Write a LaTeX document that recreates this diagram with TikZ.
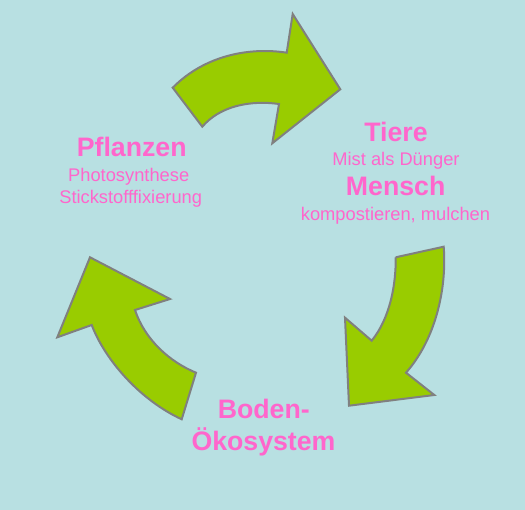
\documentclass[tikz,border=0pt]{standalone}
\usepackage{fontspec}
\setmainfont{Liberation Sans}
\definecolor{hinter}{HTML}{B8E0E2}
\definecolor{blatt}{HTML}{99CC00}
\definecolor{rosa}{HTML}{FF66CC}
\definecolor{rand}{HTML}{808080}
\begin{document}
\begin{tikzpicture}[x=1pt, y=-1pt]
            \tikzstyle{pfeil}=[fill=blatt, draw=rand, line width=2pt, line join=miter]
            \tikzstyle{titel}=[text=rosa, font=\fontsize{26.7}{30}\selectfont\bfseries, anchor=base, inner sep=0pt]
            \tikzstyle{zeile}=[text=rosa, font=\fontsize{18.3}{22}\selectfont, anchor=base, inner sep=0pt]
            \fill[hinter] (0,0) rectangle (525,510);
            \useasboundingbox (0,0) rectangle (525,510);
            % oben: Pflanzen -> Tiere
            \draw[pfeil] (172.7,87.7) .. controls (205,55) and (250,47) .. (286.7,52.7)
            -- (292.7,14) -- (340.3,89.3) -- (272.3,143.3) -- (279,104)
            .. controls (250,100) and (220,106) .. (202.3,126.7) -- cycle;
            % rechts: Tiere -> Boden
            \draw[pfeil] (395.7,257.3) -- (443.7,246.7)
            .. controls (447,290) and (435,340) .. (406,372.7)
            -- (434.3,395) -- (349,405.7) -- (345,317.7) -- (371.7,340.7)
            .. controls (390,318) and (396,285) .. (395.7,257.3);
            % links: Boden -> Pflanzen
            \draw[pfeil] (90,257.3) -- (170,299) -- (135,310)
            .. controls (145,340) and (170,362) .. (196,372.7)
            -- (181.7,419.3) .. controls (140,400) and (105,360) .. (91.7,325)
            -- (57.3,337.3) -- cycle;
            \node[titel] (pflanzen) at (131.7,156.7) {Pflanzen};
            \node[zeile] (photo) at (128.7,181.7) {Photosynthese};
            \node[zeile] (stick) at (130.7,204) {Stickstofffixierung};
            \node[titel] (tiere) at (396,141.7) {Tiere};
            \node[zeile] (mist) at (396,166) {Mist als Dünger};
            \node[titel] (mensch) at (395.7,196) {Mensch};
            \node[zeile] (kompost) at (395.5,221) {kompostieren, mulchen};
            \node[titel] (boden) at (263.8,418.3) {Boden-};
            \node[titel] (oeko) at (263.5,450.7) {Ökosystem};
        \end{tikzpicture}
\end{document}
